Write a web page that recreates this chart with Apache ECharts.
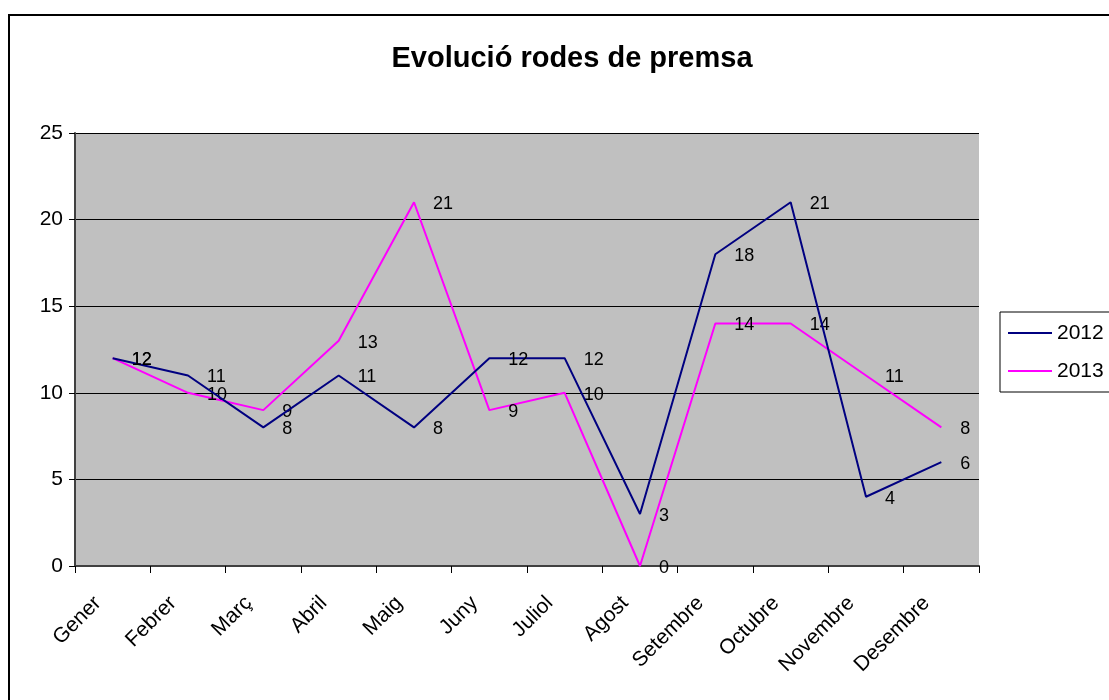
<!DOCTYPE html>
<html><head><meta charset="utf-8">
<script src="https://cdn.jsdelivr.net/npm/echarts@6/dist/echarts.min.js"></script>
<style>html,body{margin:0;padding:0;background:#fff}#c{width:1109px;height:700px}</style>
</head><body><div id="c"></div>
<script>
const categories = ['Gener','Febrer','Març','Abril','Maig','Juny','Juliol','Agost','Setembre','Octubre','Novembre','Desembre'];
const s2012 = [12, 11, 8, 11, 8, 12, 12, 3, 18, 21, 4, 6];
const s2013 = [12, 10, 9, 13, 21, 9, 10, 0, 14, 14, 11, 8];
const yTicks = [0, 5, 10, 15, 20, 25];

const chart = echarts.init(document.getElementById('c'));
const font = 'Liberation Sans, Arial, sans-serif';
const lbl = {show: true, position: 'right', distance: 19, offset: [0, 2], color: '#000', fontSize: 18, fontFamily: font};
chart.setOption({
  animation: false,
  title: {text: 'Evolució rodes de premsa', left: 567, top: 39, textAlign: 'center',
    textStyle: {fontSize: 29, fontWeight: 'bold', color: '#000', fontFamily: font}},
  graphic: [{type: 'rect', shape: {x: 9, y: 15, width: 1120, height: 700}, style: {fill: 'none', stroke: '#000', lineWidth: 2}, z: -1}],
  legend: {orient: 'vertical', left: 1000, top: 312, itemWidth: 44, itemHeight: 2, itemGap: 16,
    padding: [10, 8, 10, 8], borderColor: '#000', borderWidth: 1, backgroundColor: '#fff',
    icon: 'rect', textStyle: {fontSize: 21, lineHeight: 22, color: '#000', fontFamily: font},
    data: ['2012', '2013']},
  grid: {left: 75, right: 130, top: 133, bottom: 134, show: true, backgroundColor: '#C0C0C0', borderWidth: 0},
  xAxis: {type: 'category', data: categories, boundaryGap: true,
    axisLine: {lineStyle: {color: '#404040', width: 2}},
    axisTick: {show: true, length: 7, lineStyle: {color: '#000'}},
    axisLabel: {rotate: 45, fontSize: 21, color: '#000', fontFamily: font, margin: 19, padding: [0, 21, 0, 0]}},
  yAxis: {type: 'value', min: yTicks[0], max: yTicks[yTicks.length - 1], interval: 5,
    axisLine: {show: true, lineStyle: {color: '#404040', width: 2}},
    axisTick: {show: true, length: 6, lineStyle: {color: '#000'}},
    splitLine: {lineStyle: {color: '#000', width: 1}},
    axisLabel: {fontSize: 21, color: '#000', fontFamily: font, margin: 12}},
  series: [
    {name: '2012', type: 'line', data: s2012, symbol: 'circle', symbolSize: 0, showSymbol: true, color: '#000080',
      lineStyle: {width: 2, color: '#000080'}, label: lbl, z: 3},
    {name: '2013', type: 'line', data: s2013, symbol: 'circle', symbolSize: 0, showSymbol: true, color: '#FF00FF',
      lineStyle: {width: 2, color: '#FF00FF'}, label: lbl, z: 2}
  ]
});
</script></body></html>
